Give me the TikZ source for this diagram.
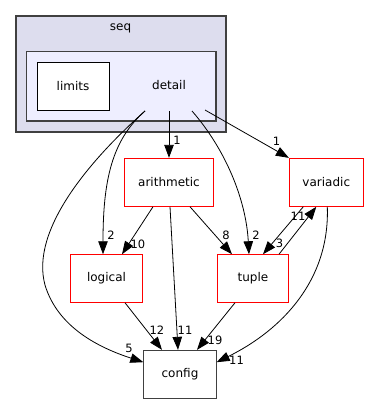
\documentclass[tikz,border=0pt]{standalone}
\usepackage{fontspec}
\setmainfont{DejaVu Sans}
\usetikzlibrary{arrows.meta}
\definecolor{clusterouter}{HTML}{DDDDEE}
\definecolor{clusterinner}{HTML}{EEEEFF}
\definecolor{clusterline}{HTML}{404040}
\tikzset{
  dirbox/.style={draw=red, line width=0.9pt, fill=white, inner sep=0pt,
    font=\fontsize{12}{14}\selectfont},
  plainbox/.style={draw=clusterline, line width=1pt, fill=white, inner sep=0pt,
    font=\fontsize{12}{14}\selectfont},
  dep/.style={draw=black, line width=0.8pt, -{Triangle[length=13pt,width=9.5pt]}},
  cnt/.style={inner sep=0pt, font=\fontsize{11.5}{13}\selectfont},
}
\begin{document}
\begin{tikzpicture}[x=1pt,y=-1pt]
  \useasboundingbox (0,0) rectangle (369,404);

  % directory clusters
  \draw[clusterline, line width=1.2pt, fill=clusterouter] (16,16) rectangle (226,132);
  \node[font=\fontsize{12}{14}\selectfont] (seqlbl) at (120.5,28.5) {seq};
  \draw[clusterline, line width=1.2pt, fill=clusterinner] (26.5,51.5) rectangle (216,121);
  \node[font=\fontsize{12}{14}\selectfont] (detail) at (169,85.5) {detail};
  \node[draw=black, line width=0.9pt, fill=white, minimum width=72pt, minimum height=48pt,
        font=\fontsize{12}{14}\selectfont] (limits) at (73,86.3) {limits};

  % edge origins inside the detail cluster
  \coordinate (dl) at (145,111);
  \coordinate (dm) at (169,111);
  \coordinate (dr) at (192,111);
  \coordinate (df) at (205,110);

  % dependency directories
  \node[dirbox, minimum width=88.6pt, minimum height=48pt] (arithmetic) at (169,182.3) {arithmetic};
  \node[dirbox, minimum width=74pt, minimum height=48pt] (variadic) at (326.3,182.3) {variadic};
  \node[dirbox, minimum width=72.4pt, minimum height=47.6pt] (logical) at (106.5,278.5) {logical};
  \node[dirbox, minimum width=71.7pt, minimum height=47.6pt] (tuple) at (253,278.5) {tuple};
  \node[plainbox, minimum width=72.3pt, minimum height=47.7pt] (config) at (180,374.2) {config};

  % edges leaving detail
  \draw[dep] (dm) -- (arithmetic.north);
  \draw[dep] (df) -- (variadic.north west);
  \draw[dep] (dl) .. controls (112,140) and (103,180) .. ([xshift=-3.5pt]logical.north);
  \draw[dep] (dr) .. controls (226,150) and (246,200) .. ([xshift=-4pt]tuple.north);
  \draw[dep] (dl) .. controls (90,160) and (30,230) .. (45,285)
                  .. controls (58,328) and (100,348) .. ([yshift=12pt]config.west);

  % edges between dependency directories
  \draw[dep] ([xshift=-16pt]arithmetic.south) -- ([xshift=15.5pt]logical.north);
  \draw[dep] ([xshift=1pt]arithmetic.south) -- ([xshift=-2pt]config.north);
  \draw[dep] ([xshift=21pt]arithmetic.south) -- ([xshift=-21pt]tuple.north);
  \draw[dep] ([xshift=-23pt]variadic.south) -- ([xshift=10pt]tuple.north);
  \draw[dep] ([xshift=26pt]tuple.north) -- ([xshift=-10pt]variadic.south);
  \draw[dep] ([xshift=1pt]variadic.south) .. controls (330,280) and (282,330) .. ([yshift=12pt]config.east);
  \draw[dep] ([xshift=18.5pt]logical.south) -- ([xshift=-18pt]config.north);
  \draw[dep] ([xshift=-18pt]tuple.south) -- ([xshift=17pt]config.north);

  % dependency counts
  \node[cnt] (n1) at (177,140) {1};
  \node[cnt] (n2) at (276.5,141) {1};
  \node[cnt] (n3) at (111,235) {2};
  \node[cnt] (n4) at (256,235) {2};
  \node[cnt] (n5) at (129,348) {5};
  \node[cnt] (n6) at (138,244) {10};
  \node[cnt] (n7) at (185,330) {11};
  \node[cnt] (n8) at (226,235) {8};
  \node[cnt] (n9) at (279.5,243) {3};
  \node[cnt] (n10) at (298,216) {11};
  \node[cnt] (n11) at (236.5,360) {11};
  \node[cnt] (n12) at (157,330) {12};
  \node[cnt] (n13) at (215,340) {19};
\end{tikzpicture}
\end{document}
